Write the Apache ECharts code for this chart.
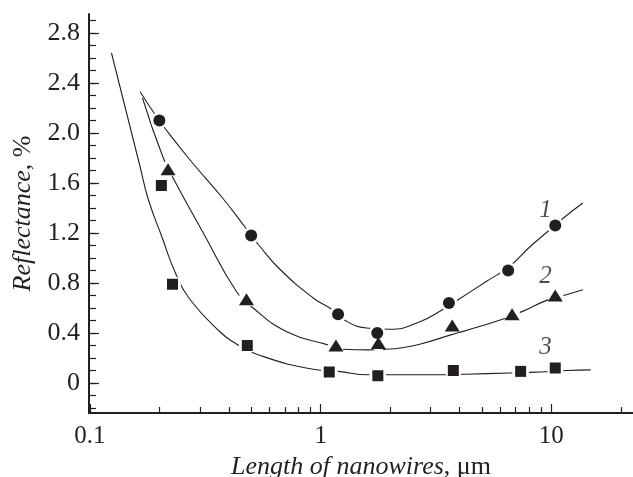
<!DOCTYPE html>
<html>
<head>
<meta charset="utf-8">
<script src="https://cdn.jsdelivr.net/npm/echarts@6.0.0/dist/echarts.min.js"></script>
<style>
  html, body { margin: 0; padding: 0; background: #fff; }
  #chart { width: 633px; height: 477px; }
</style>
</head>
<body>
<div id="chart"></div>
<script>
// measured points (length in um, reflectance in %)
const lenCircles = [0.2, 0.5, 1.19, 1.76, 3.6, 6.5, 10.4];
const refCircles = [2.1, 1.18, 0.55, 0.40, 0.64, 0.90, 1.26];
const lenTriangles = [0.218, 0.477, 1.165, 1.78, 3.72, 6.76, 10.4];
const refTriangles = [1.71, 0.67, 0.30, 0.32, 0.46, 0.55, 0.70];
const lenSquares = [0.204, 0.228, 0.481, 1.09, 1.77, 3.76, 7.36, 10.4];
const refSquares = [1.58, 0.79, 0.30, 0.088, 0.058, 0.10, 0.093, 0.12];

// fitted curves
const fit1Len = [0.165, 0.188, 0.211, 0.27, 0.372, 0.478, 0.536, 0.666, 0.929, 1.116, 1.25, 1.58, 2.0, 2.69, 3.4, 3.9, 5.2, 6.55, 8.08, 9.48, 11.46, 13.7];
const fit1Ref = [2.33, 2.17, 2.04, 1.79, 1.49, 1.23, 1.11, 0.91, 0.68, 0.59, 0.51, 0.44, 0.43, 0.49, 0.59, 0.66, 0.81, 0.93, 1.09, 1.20, 1.33, 1.44];
const fit2Len = [0.169, 0.208, 0.234, 0.31, 0.432, 0.502, 0.713, 1.097, 1.25, 1.61, 1.93, 2.21, 2.69, 3.82, 4.15, 6.19, 7.51, 9.54, 11.6, 13.7];
const fit2Ref = [2.28, 1.80, 1.61, 1.20, 0.73, 0.61, 0.41, 0.30, 0.27, 0.265, 0.27, 0.28, 0.31, 0.395, 0.413, 0.512, 0.573, 0.661, 0.706, 0.746];
const fit3Len = [0.124, 0.165, 0.179, 0.205, 0.236, 0.271, 0.366, 0.425, 0.528, 0.929, 1.19, 1.61, 2.03, 2.21, 3.39, 4.22, 6.6, 8.0, 9.48, 11.7, 14.8];
const fit3Ref = [2.64, 1.73, 1.47, 1.17, 0.87, 0.67, 0.41, 0.32, 0.23, 0.11, 0.093, 0.066, 0.066, 0.066, 0.066, 0.07, 0.08, 0.085, 0.09, 0.10, 0.105];

// curve numbers
const curveNames = ['1', '2', '3'];
const curveNameLen = [9.44, 9.44, 9.44];
const curveNameRef = [1.38, 0.85, 0.285];

// axis ticks / labels
const xLabels = [0.1, 1, 10];
const xMinorTicks = [0.2, 0.3, 0.4, 0.5, 0.6, 0.7, 0.8, 0.9, 2, 3, 4, 5, 6, 7, 8, 9, 20];
const yLabels = [0, 0.4, 0.8, 1.2, 1.6, 2.0, 2.4, 2.8];
const yMinorTicks = [];
for (let i = -2; i <= 29; i++) yMinorTicks.push(i / 10);

const ink = '#231f20';
const serif = "'Liberation Serif', 'Times New Roman', Times, serif";
const lg = Math.log10;

function pairs(xs, ys) {
  return xs.map((x, i) => [lg(x), ys[i]]);
}

let myChart = echarts.init(document.getElementById('chart'));

function fitLine(xs, ys) {
  return {
    type: 'line',
    data: pairs(xs, ys),
    showSymbol: false,
    smooth: 0.5,
    silent: true,
    z: 2,
    lineStyle: { color: ink, width: 1.1 },
  };
}
function halo(xs, ys, size) {
  return {
    type: 'scatter',
    data: pairs(xs, ys),
    symbol: 'circle',
    symbolSize: size,
    silent: true,
    z: 3,
    itemStyle: { color: '#fff', opacity: 1 },
  };
}
function marks(xs, ys, symbol, size) {
  return {
    type: 'scatter',
    data: pairs(xs, ys),
    symbol: symbol,
    symbolSize: size,
    silent: true,
    z: 4,
    itemStyle: { color: ink, opacity: 1 },
  };
}

const xMin = -1.004, xMax = 1.354;
const nameRich = {
  i: { fontFamily: serif, fontStyle: 'italic', fontSize: 26, color: ink },
  r: { fontFamily: serif, fontSize: 26, color: ink },
};

let option = {
  backgroundColor: '#fff',
  animation: false,
  grid: { left: 89, right: 0, top: 14, bottom: 64, containLabel: false, outerBoundsMode: 'none' },
  xAxis: [
    {
      type: 'value',
      min: xMin,
      max: xMax,
      name: '{i|Length of nanowires}{r|, μm}',
      nameLocation: 'middle',
      nameGap: 38,
      nameTextStyle: { rich: nameRich },
      axisLine: { onZero: false, lineStyle: { color: ink, width: 2 } },
      axisTick: { inside: true, length: 6, lineStyle: { color: ink, width: 1.2 }, customValues: xMinorTicks.map(lg) },
      axisLabel: {
        customValues: xLabels.map(lg),
        margin: 11,
        fontFamily: serif,
        fontSize: 25,
        color: ink,
        formatter: (v) => String(Math.round(Math.pow(10, v) * 10) / 10),
      },
      splitLine: { show: false },
    },
    {
      type: 'value',
      position: 'bottom',
      min: xMin,
      max: xMax,
      axisLine: { show: false, onZero: false },
      axisTick: { inside: true, length: 9, lineStyle: { color: ink, width: 1.2 }, customValues: xLabels.map(lg) },
      axisLabel: { show: false },
      splitLine: { show: false },
    },
  ],
  yAxis: [
    {
      type: 'value',
      min: -0.24,
      max: 2.952,
      name: '{i|Reflectance}{r|, %}',
      nameLocation: 'middle',
      nameGap: 53,
      nameTextStyle: { rich: nameRich },
      axisLine: { show: true, onZero: false, lineStyle: { color: ink, width: 2 } },
      axisTick: { show: true, inside: true, length: 7, lineStyle: { color: ink, width: 1.2 }, customValues: yMinorTicks },
      axisLabel: {
        customValues: yLabels,
        margin: 9,
        fontFamily: serif,
        fontSize: 26,
        color: ink,
        formatter: (v) => (v === 0 ? '0' : v.toFixed(1)),
      },
      splitLine: { show: false },
    },
    {
      type: 'value',
      position: 'left',
      min: -0.24,
      max: 2.952,
      axisLine: { show: false, onZero: false },
      axisTick: { show: true, inside: true, length: 10, lineStyle: { color: ink, width: 1.2 }, customValues: yLabels },
      axisLabel: { show: false },
      splitLine: { show: false },
    },
  ],
  series: [
    fitLine(fit1Len, fit1Ref),
    fitLine(fit2Len, fit2Ref),
    fitLine(fit3Len, fit3Ref),
    halo(lenCircles, refCircles, 17),
    halo(lenTriangles, refTriangles, 16),
    halo(lenSquares, refSquares, 17),
    marks(lenCircles, refCircles, 'circle', 12),
    marks(lenTriangles, refTriangles, 'triangle', [15, 12]),
    marks(lenSquares, refSquares, 'rect', 11),
    {
      type: 'scatter',
      data: curveNames.map((n, i) => ({ name: n, value: [lg(curveNameLen[i]), curveNameRef[i]] })),
      symbolSize: 0,
      silent: true,
      z: 5,
      label: {
        show: true,
        position: 'inside',
        formatter: '{b}',
        fontFamily: serif,
        fontStyle: 'italic',
        fontSize: 25,
        color: ink,
      },
    },
  ],
};

myChart.setOption(option);
</script>
</body>
</html>
